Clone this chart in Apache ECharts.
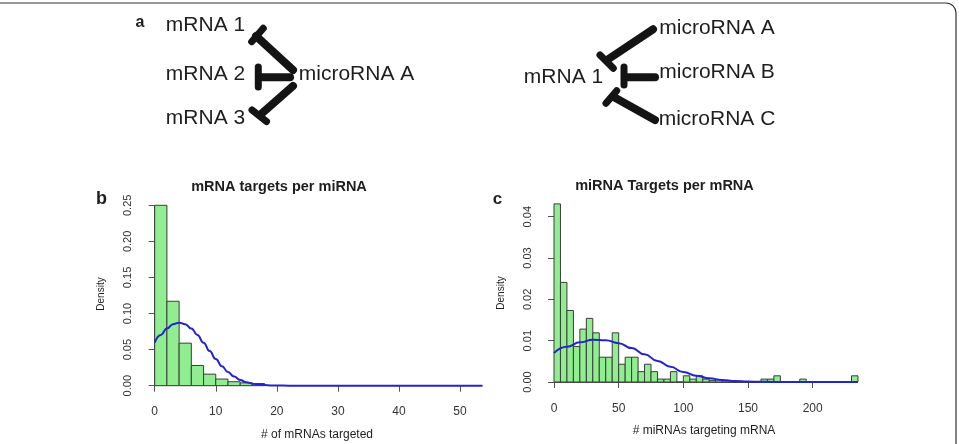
<!DOCTYPE html>
<html>
<head>
<meta charset="utf-8">
<script src="https://cdn.jsdelivr.net/npm/echarts@6/dist/echarts.min.js"></script>
<style>
  html, body { margin: 0; padding: 0; background: #fff; }
  #chart { width: 959px; height: 444px; }
</style>
</head>
<body>
<div id="chart"></div>
<script>
const FONT = '"Liberation Sans", Arial, sans-serif';

// panel b: mRNA targets per miRNA (bins of width 2)
const BIN_B_START = [0, 2, 4, 6, 8, 10, 12, 14, 16];
const BIN_B_WIDTH = 2;
const DENSITY_B = [0.250, 0.117, 0.059, 0.028, 0.016, 0.0092, 0.0055, 0.0040, 0.0030];
const CURVE_B_X = [0, 1, 2, 3, 4, 5, 6, 7, 8, 9, 10, 11, 12, 13, 14, 15, 16, 17, 18, 19, 20, 22, 25, 53.7];
const CURVE_B_Y = [0.0596, 0.0704, 0.0793, 0.0852, 0.0873, 0.0852, 0.0793, 0.0704, 0.0596, 0.0480,
  0.0369, 0.0270, 0.0189, 0.0126, 0.0080, 0.0048, 0.0028, 0.0015, 0.0008, 0.0004, 0.0002, 0.00004, 0, 0];
const CURVE_B_END = 53.7;

// panel c: miRNA targets per mRNA (bins of width 5)
const BIN_C_START = [0, 5, 10, 15, 20, 25, 30, 35, 40, 45, 50, 55, 60, 65, 70, 75, 80, 85, 90, 95,
  100, 105, 110, 115, 120, 125, 130, 135, 140, 145, 150, 155, 160, 165, 170, 175, 180, 185, 190, 195,
  200, 205, 210, 215, 220, 225, 230];
const BIN_C_WIDTH = 5;
const DENSITY_C = [0.0431, 0.0241, 0.0173, 0.0086, 0.0128, 0.0154, 0.0119, 0.0060, 0.0060, 0.0119,
  0.0043, 0.0060, 0.0060, 0.0025, 0.0043, 0.0025, 0.0007, 0.0007, 0.0025, 0,
  0.0015, 0.0007, 0.0015, 0.0007, 0.0004, 0.0005, 0, 0, 0, 0,
  0, 0, 0.0007, 0.0007, 0.0015, 0, 0, 0, 0.0007, 0,
  0, 0, 0, 0, 0, 0, 0.0015];
const CURVE_C_X = [0, 10, 20, 30, 40, 50, 60, 70, 80, 90, 100, 110, 120, 130, 140, 150, 160, 170, 180, 235];
const CURVE_C_Y = [0.0070, 0.0085, 0.0096, 0.0102, 0.0101, 0.0094, 0.0082, 0.0067, 0.0051, 0.0037,
  0.0024, 0.0015, 0.0009, 0.0005, 0.00025, 0.00012, 0.00005, 0.00002, 0, 0];
const CURVE_C_END = 235;

const toBins = (starts, width, dens) => starts.map((x, i) => [x, x + width, dens[i]]);
const toPairs = (xs, ys) => xs.map((x, i) => [x, ys[i]]);

function renderBar(params, api) {
  const p0 = api.coord([api.value(0), api.value(2)]);
  const p1 = api.coord([api.value(1), 0]);
  return {
    type: 'rect',
    shape: { x: p0[0], y: p0[1], width: p1[0] - p0[0], height: p1[1] - p0[1] },
    style: { fill: '#90ee90', stroke: '#3c3c3c', lineWidth: 1 }
  };
}

const axisLine = { show: true, lineStyle: { color: '#555', width: 1 } };
const axisTick = { show: true, length: 6, lineStyle: { color: '#555', width: 1 } };

function xAxis(gridIndex, max, interval, offset) {
  return {
    type: 'value', gridIndex, min: 0, max, interval, offset,
    axisLine, axisTick, splitLine: { show: false },
    axisLabel: { color: '#333', fontSize: 12, fontFamily: FONT, margin: 13 }
  };
}
function yAxis(gridIndex, max, interval, offset) {
  return {
    type: 'value', gridIndex, min: 0, max, interval, offset,
    axisLine, axisTick, splitLine: { show: false },
    axisLabel: { color: '#333', fontSize: 11, fontFamily: FONT, margin: 8, rotate: 90,
      formatter: v => v.toFixed(2) }
  };
}
// hidden axes for the fitted curves, which run past the last tick
function hiddenAxis(gridIndex, max) {
  return { type: 'value', gridIndex, min: 0, max, show: false, splitLine: { show: false } };
}

function txt(text, x, y, size, weight, rotation) {
  return {
    type: 'text', x, y, rotation: rotation || 0,
    style: { text, font: (weight || 'normal') + ' ' + size + 'px ' + FONT, fill: '#1e1e1e',
      textAlign: 'center', textVerticalAlign: 'middle', align: 'center', verticalAlign: 'middle' }
  };
}
function stroke(x1, y1, x2, y2, w) {
  return {
    type: 'line', shape: { x1, y1, x2, y2 },
    style: { stroke: '#141414', lineWidth: w, lineCap: 'round' }
  };
}

const GRID_B = { left: 154.7, top: 205.3, width: 305.3, height: 180.4 };
const GRID_C = { left: 554, top: 216.7, width: 258.7, height: 165.3 };

const chart = echarts.init(document.getElementById('chart'));
chart.setOption({
  animation: false,
  grid: [
    GRID_B,
    GRID_C,
    Object.assign({}, GRID_B, { width: GRID_B.width * CURVE_B_END / 50 }),
    Object.assign({}, GRID_C, { width: GRID_C.width * CURVE_C_END / 200 })
  ],
  xAxis: [xAxis(0, 50, 10, 7.2), xAxis(1, 200, 50, 7.3),
    hiddenAxis(2, CURVE_B_END), hiddenAxis(3, CURVE_C_END)],
  yAxis: [yAxis(0, 0.25, 0.05, 13.7), yAxis(1, 0.04, 0.01, 12.3),
    hiddenAxis(2, 0.25), hiddenAxis(3, 0.04)],
  series: [
    { type: 'custom', xAxisIndex: 0, yAxisIndex: 0, renderItem: renderBar, clip: false,
      encode: { x: [0, 1], y: 2 }, data: toBins(BIN_B_START, BIN_B_WIDTH, DENSITY_B) },
    { type: 'line', xAxisIndex: 2, yAxisIndex: 2, clip: false, showSymbol: false,
      smooth: true, smoothMonotone: 'x', z: 5,
      lineStyle: { color: '#2424cf', width: 2 }, data: toPairs(CURVE_B_X, CURVE_B_Y) },
    { type: 'custom', xAxisIndex: 1, yAxisIndex: 1, renderItem: renderBar, clip: false,
      encode: { x: [0, 1], y: 2 }, data: toBins(BIN_C_START, BIN_C_WIDTH, DENSITY_C) },
    { type: 'line', xAxisIndex: 3, yAxisIndex: 3, clip: false, showSymbol: false,
      smooth: true, smoothMonotone: 'x', z: 5,
      lineStyle: { color: '#2424cf', width: 2 }, data: toPairs(CURVE_C_X, CURVE_C_Y) }
  ],
  graphic: [
    { type: 'rect', shape: { x: -20, y: 3, width: 976, height: 480, r: 10 },
      style: { fill: null, stroke: '#333', lineWidth: 1.2 } },
    // panel a, left diagram
    txt('a', 140, 23, 16, 'bold'),
    txt('mRNA 1', 205.5, 25, 21),
    txt('mRNA 2', 205.5, 74, 21),
    txt('mRNA 3', 205.5, 118, 21),
    txt('microRNA A', 356.5, 74, 21),
    stroke(293, 70, 256, 36, 8), stroke(251.7, 41.7, 263.3, 28.3, 7),
    stroke(290, 77.3, 259, 77.3, 8), stroke(258.3, 67, 258.3, 87, 7),
    stroke(293, 86, 260, 115, 8), stroke(252, 110, 266.5, 121.5, 7),
    // panel a, right diagram
    txt('mRNA 1', 563.5, 77, 21),
    txt('microRNA A', 717, 28, 21),
    txt('microRNA B', 717, 72.5, 21),
    txt('microRNA C', 717, 119, 21),
    stroke(653, 29.3, 607, 60, 8), stroke(600, 55, 613.3, 68.3, 7),
    stroke(655, 77.3, 625, 77.3, 8), stroke(624, 67, 624, 85, 7),
    stroke(655, 120, 613.3, 96.7, 8), stroke(606, 103.3, 616.7, 90.7, 7),
    // panel b labels
    txt('b', 101.5, 199, 18, 'bold'),
    txt('mRNA targets per miRNA', 279, 187, 14.5, 'bold'),
    txt('Density', 101, 294, 10, 'normal', Math.PI / 2),
    txt('# of mRNAs targeted', 317, 435, 12),
    // panel c labels
    txt('c', 497.5, 199, 17, 'bold'),
    txt('miRNA Targets per mRNA', 664.5, 186, 14.5, 'bold'),
    txt('Density', 501, 293, 10, 'normal', Math.PI / 2),
    txt('# miRNAs targeting mRNA', 704, 431, 12)
  ]
});
</script>
</body>
</html>
